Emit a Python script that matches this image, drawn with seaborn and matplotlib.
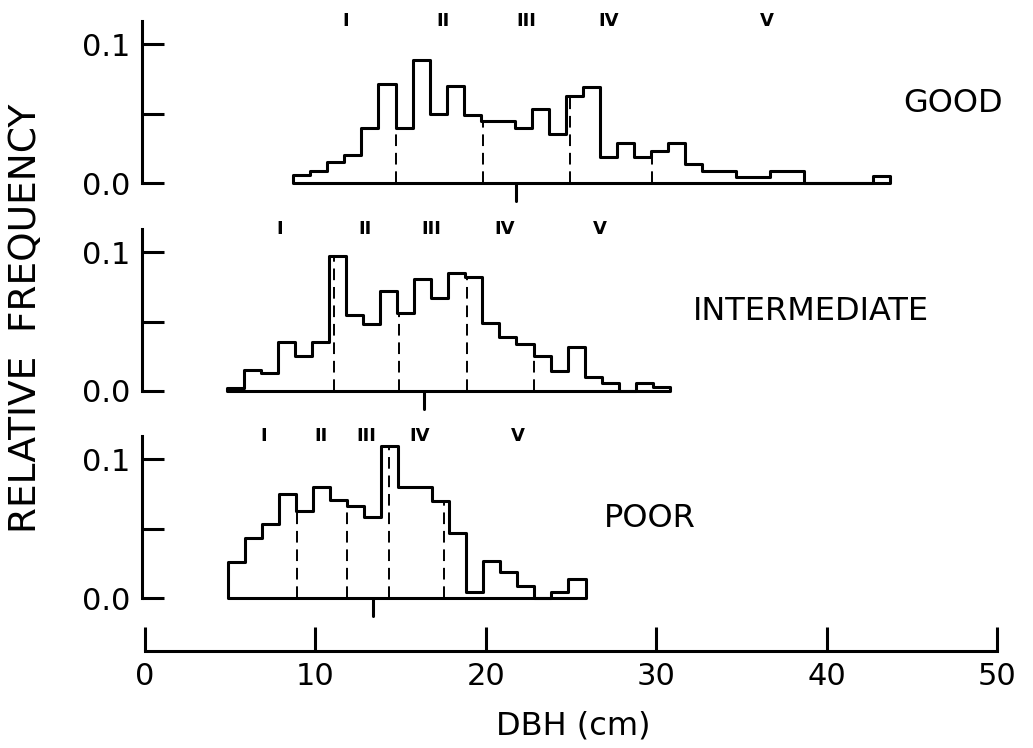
"""
Relative frequency of DBH by crown class (GOOD / INTERMEDIATE / POOR)
"""
import matplotlib
matplotlib.use("Agg")
import matplotlib.pyplot as plt
import numpy as np
import seaborn as sns

# ---- data (1 cm bins) ----
good_start = 8.7
good_freq = [0.006, 0.009, 0.015, 0.020, 0.040, 0.071, 0.040, 0.089, 0.050, 0.070,
             0.049, 0.045, 0.045, 0.040, 0.053, 0.035, 0.063, 0.069, 0.019, 0.029,
             0.019, 0.023, 0.029, 0.014, 0.0086, 0.0086, 0.0043, 0.0043, 0.0086, 0.0086,
             0.0, 0.0, 0.0, 0.0, 0.005]
good_quint = [14.72, 19.86, 24.92, 29.77]
good_roman_x = [11.8, 17.5, 22.4, 27.2, 36.5]
good_median = 21.8

inter_start = 4.8
inter_freq = [0.002, 0.015, 0.013, 0.035, 0.0255, 0.035, 0.097, 0.055, 0.048, 0.072,
              0.056, 0.081, 0.067, 0.085, 0.082, 0.049, 0.039, 0.034, 0.025, 0.0145,
              0.032, 0.010, 0.0055, 0.0, 0.0055, 0.003]
inter_quint = [11.1, 14.9, 18.9, 22.82]
inter_roman_x = [7.9, 12.9, 16.8, 21.1, 26.7]
inter_median = 16.4

poor_start = 4.85
poor_freq = [0.026, 0.043, 0.053, 0.075, 0.063, 0.080, 0.0706, 0.066, 0.0585, 0.1096,
             0.080, 0.080, 0.070, 0.0465, 0.004, 0.027, 0.019, 0.009, 0.0, 0.0043,
             0.014]
poor_quint = [8.9, 11.84, 14.3, 17.56]
poor_roman_x = [6.95, 10.3, 13.0, 16.1, 21.9]
poor_median = 13.35

roman = ["I", "II", "III", "IV", "V"]
panel_names = ["GOOD", "INTERMEDIATE", "POOR"]
name_x = [47.4, 39.1, 29.6]
x_ticks = [0, 10, 20, 30, 40, 50]

sns.set_style("white")
plt.rcParams["font.family"] = ["DejaVu Sans"]
plt.rcParams["text.color"] = "black"
plt.rcParams["axes.labelcolor"] = "black"
plt.rcParams["xtick.color"] = "black"
plt.rcParams["ytick.color"] = "black"

LW = 2.2
fig = plt.figure(figsize=(10.33, 7.48), dpi=100)

left, width = 0.1371, 0.8363
xlim = (-0.2, 50.5)
panel_bottoms = [0.7553, 0.4773, 0.2005]
panel_h = 0.117 * 1388 / 748

panels = [
    (good_start, good_freq, good_quint, good_roman_x, good_median),
    (inter_start, inter_freq, inter_quint, inter_roman_x, inter_median),
    (poor_start, poor_freq, poor_quint, poor_roman_x, poor_median),
]

for (start, freq, quint, rx, med), bottom, name, nx in zip(panels, panel_bottoms,
                                                           panel_names, name_x):
    ax = fig.add_axes([left, bottom, width, panel_h])
    freq = np.array(freq)
    edges = start + np.arange(len(freq) + 1)
    centers = edges[:-1] + 0.5
    sns.histplot(x=centers, weights=freq, bins=edges.tolist(), element="step",
                 fill=True, color="black", facecolor="none", edgecolor="black",
                 linewidth=LW, ax=ax)
    for coll in ax.collections:
        coll.set_clip_on(False)

    # quintile boundaries
    idx = np.searchsorted(edges, quint, side="right") - 1
    ax.vlines(quint, 0, freq[idx], colors="black", linestyles=(0, (6, 3.5)),
              linewidth=1.4)
    # median tick below the baseline
    ax.plot([med, med], [0, -0.013], color="black", lw=LW, clip_on=False)

    for r, xr in zip(roman, rx):
        ax.text(xr, 0.117, r, ha="center", va="center", fontsize=13,
                fontweight="bold")
    ax.text(nx, 0.057, name, ha="center", va="center", fontsize=23)

    ax.set_xlim(*xlim)
    ax.set_ylim(0, 0.117)
    for s in ["top", "right", "bottom"]:
        ax.spines[s].set_visible(False)
    ax.spines["left"].set_linewidth(LW)
    ax.spines["left"].set_color("black")
    ax.set_yticks([0, 0.05, 0.1])
    ax.set_yticklabels(["0.0", "", "0.1"])
    ax.tick_params(axis="y", direction="in", length=16, width=LW, pad=8,
                   labelsize=22, left=True)
    ax.set_xticks([])
    ax.set_xlabel("")
    ax.set_ylabel("")
    ax.patch.set_alpha(0)

# shared x axis
ax_b = fig.add_axes([left, 1 - 651 / 748, width, 0.01])
ax_b.set_xlim(*xlim)
for s in ["top", "right", "left"]:
    ax_b.spines[s].set_visible(False)
ax_b.spines["bottom"].set_bounds(0, 50)
ax_b.spines["bottom"].set_linewidth(LW)
ax_b.spines["bottom"].set_color("black")
ax_b.set_xticks(x_ticks)
ax_b.set_yticks([])
ax_b.tick_params(axis="x", direction="in", length=17, width=LW, pad=8,
                 labelsize=22, bottom=True)
ax_b.set_xlabel("DBH (cm)", fontsize=23, labelpad=14)
ax_b.patch.set_alpha(0)

fig.text(26 / 1033, 1 - 318 / 748, "RELATIVE  FREQUENCY", rotation=90,
         ha="center", va="center", fontsize=27)

fig.savefig("out.png", dpi=100, facecolor="white")
